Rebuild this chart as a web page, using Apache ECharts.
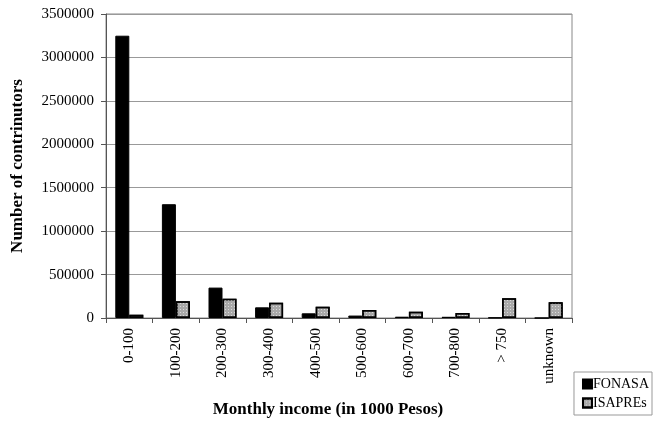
<!DOCTYPE html>
<html><head><meta charset="utf-8">
<script src="https://cdn.jsdelivr.net/npm/echarts@6/dist/echarts.min.js"></script>
<style>html,body{margin:0;padding:0;background:#fff}#c{width:653px;height:424px}</style>
</head><body><div id="c"></div>
<script>
const categories = ['0-100','100-200','200-300','300-400','400-500','500-600','600-700','700-800','> 750','unknown'];
const fonasa = [3250000, 1310000, 350000, 123000, 54000, 28000, 15000, 14000, 5000, 0];
const isapres = [38000, 192000, 222000, 176000, 130000, 92000, 73000, 58000, 227000, 181000];
const yTicks = [0, 500000, 1000000, 1500000, 2000000, 2500000, 3000000, 3500000];

const font = 'Liberation Serif';
const chart = echarts.init(document.getElementById('c'), null, {renderer:'canvas'});
chart.setOption({
  animation: false,
  grid: {left:106, right:81, top:14, bottom:106, show:true, borderColor:'#888', borderWidth:1, backgroundColor:'#fff'},
  legend: {
    orient:'vertical', right:1, bottom:9, itemWidth:9, itemHeight:9, itemGap:5,
    padding:[5,3,5,8], borderColor:'#999', borderWidth:1,
    textStyle:{fontFamily:font, fontSize:14, color:'#000', padding:[0,0,0,-4]},
    data:[{name:'FONASA', icon:'rect'},{name:'ISAPREs', icon:'rect'}]
  },
  xAxis: {
    type:'category', data:categories,
    axisLine:{lineStyle:{color:'#555', width:1}},
    axisTick:{show:true, alignWithLabel:false, length:5, lineStyle:{color:'#555'}},
    axisLabel:{rotate:90, margin:10, fontFamily:font, fontSize:15, color:'#000', interval:0}
  },
  yAxis: {
    type:'value', min:yTicks[0], max:yTicks[yTicks.length-1], interval:500000,
    axisLine:{show:true, lineStyle:{color:'#555'}},
    axisTick:{show:true, length:5, lineStyle:{color:'#555'}},
    axisLabel:{fontFamily:font, fontSize:15, color:'#000', margin:12, formatter: v => String(v)},
    splitLine:{lineStyle:{color:'#999', width:1}}
  },
  graphic: [
    {type:'text', x:18, y:166, rotation:Math.PI/2, style:{text:'Number of contrinutors', font:'bold 17px "Liberation Serif"', fill:'#000', textAlign:'center', textVerticalAlign:'middle'}},
    {type:'text', x:328, y:410, style:{text:'Monthly income (in 1000 Pesos)', font:'bold 17px "Liberation Serif"', fill:'#000', textAlign:'center', textVerticalAlign:'middle'}}
  ],
  series: [
    {name:'FONASA', type:'bar', data:fonasa, barWidth:14, barGap:'0%',
     itemStyle:{color:'#000', borderColor:'#000', borderWidth:1}},
    {name:'ISAPREs', type:'bar', data:isapres, barWidth:14,
     itemStyle:{color:'#a9a9a9', borderColor:'#000', borderWidth:1.5,
       decal:{symbol:'rect', symbolSize:1, color:'rgba(230,230,230,0.8)', dashArrayX:[[1,2]], dashArrayY:[1,2], rotation:0}}}
  ]
});
</script></body></html>
